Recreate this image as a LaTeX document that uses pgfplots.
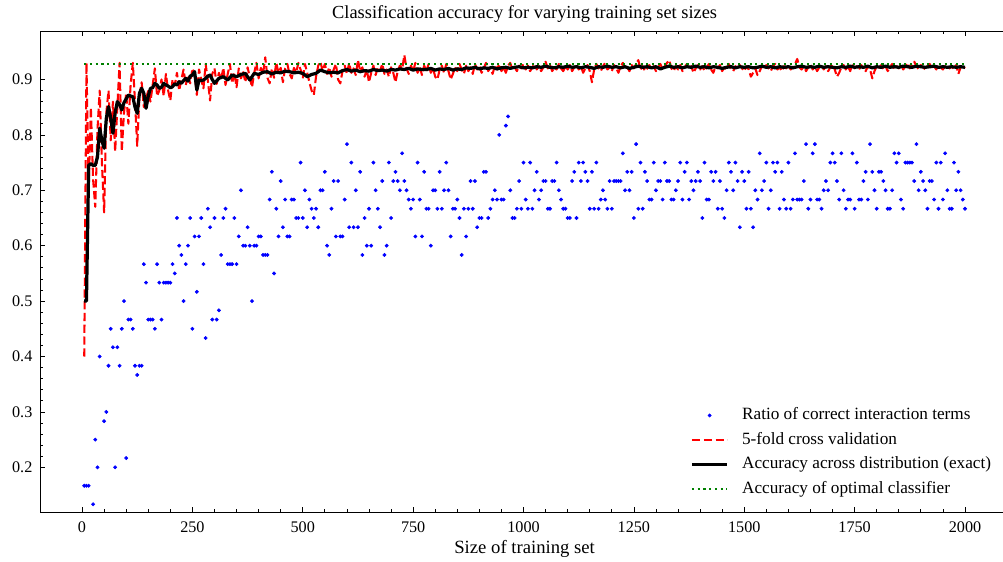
\documentclass[border=0pt]{standalone}
\usepackage{pgfplots}
\pgfplotsset{compat=1.18}
\usepackage{fontspec}
\setmainfont{Liberation Serif}

\pgfplotsset{
    line legend24/.style={legend image code/.code={\draw[##1] (0pt,0pt) -- (24pt,0pt);}},
    dot legend24/.style={legend image code/.code={\draw[mark repeat=2,mark phase=2,##1] plot coordinates {(0pt,0pt) (12pt,0pt) (24pt,0pt)};}},
}

\begin{document}
\begin{tikzpicture}
\begin{axis}[
    scale only axis,
    width=658.8pt, height=327.1pt,
    xmin=-94.75, xmax=2099.75,
    ymin=0.1193, ymax=0.9875,
    xtick={0,250,...,2000},
    ytick={0.2,0.3,0.4,0.5,0.6,0.7,0.8,0.9},
    minor x tick num=4, minor y tick num=4,
    tick align=inside, tick pos=both,
    major tick length=3.4pt, minor tick length=2pt,
    every tick/.style={black, line width=0.5pt},
    axis line style={line width=0.6pt},
    /pgf/number format/assume math mode=true,
    tick label style={font=\fontsize{11}{13}\selectfont},
    xticklabel style={/pgf/number format/1000 sep={}, anchor=base, yshift=-14pt},
    yticklabel style={xshift=-1.8pt, /pgf/number format/fixed, /pgf/number format/fixed zerofill, /pgf/number format/precision=1},
    title={Classification accuracy for varying training set sizes},
    title style={font=\fontsize{12.5}{14}\selectfont, at={(axis description cs:0.5,1)}, anchor=base, yshift=2.4pt},
    xlabel={Size of training set},
    xlabel style={font=\fontsize{12.7}{14}\selectfont, at={(axis description cs:0.5,0)}, anchor=base, yshift=-27.9pt},
    legend style={draw=none, fill=none, at={(axis cs:2063,0.1435)}, anchor=south east,
        inner sep=0pt, row sep=4.2pt, column sep=8pt,
        nodes={inner sep=1pt, text height=8pt, text depth=2.5pt},
        font=\fontsize{11.7}{13.5}\selectfont},
    legend cell align=left,
    line legend24,
]

% ratio of correct interaction terms (k/60)
\addplot[only marks, mark=*, mark size=1.1pt, color=blue, dot legend24]
coordinates {
(5,0.1667) (10,0.1667) (15,0.1667) (25,0.1333) (30,0.25) (35,0.2) (40,0.4) (45,0.1167) (50,0.2833) (55,0.3)
(60,0.3833) (65,0.45) (70,0.4167) (75,0.2) (80,0.4167) (85,0.3833) (90,0.45) (95,0.5) (100,0.2167) (105,0.4667)
(110,0.4667) (115,0.45) (120,0.3833) (125,0.3667) (130,0.3833) (135,0.3833) (140,0.5667) (145,0.5333) (150,0.4667) (155,0.4667)
(160,0.4667) (165,0.45) (170,0.5667) (175,0.5333) (180,0.4667) (185,0.5333) (190,0.5333) (195,0.5333) (200,0.5333) (205,0.5667)
(210,0.55) (215,0.65) (220,0.6) (225,0.5833) (230,0.5) (235,0.5667) (240,0.6) (245,0.65) (250,0.45) (255,0.6167)
(260,0.5167) (265,0.6167) (270,0.65) (275,0.5667) (280,0.4333) (285,0.6667) (290,0.6333) (295,0.4667) (300,0.65) (305,0.4667)
(310,0.4833) (315,0.5833) (320,0.65) (325,0.6667) (330,0.5667) (335,0.5667) (340,0.5667) (345,0.65) (350,0.5667) (355,0.6167)
(360,0.7) (365,0.6) (370,0.6) (375,0.6333) (380,0.6) (385,0.5) (390,0.6) (395,0.6) (400,0.6167) (405,0.6167)
(410,0.5833) (415,0.5833) (420,0.5833) (425,0.6833) (430,0.7333) (435,0.55) (440,0.6667) (445,0.6167) (450,0.7167) (455,0.6333)
(460,0.6833) (465,0.6167) (470,0.6167) (475,0.6833) (480,0.6833) (485,0.65) (490,0.65) (495,0.75) (500,0.65) (505,0.7)
(510,0.6333) (515,0.6833) (520,0.6667) (525,0.65) (530,0.6667) (535,0.6333) (540,0.7) (545,0.7) (550,0.7333) (555,0.6)
(560,0.5833) (565,0.6667) (570,0.7167) (575,0.6167) (580,0.7167) (585,0.6167) (590,0.6167) (595,0.6833) (600,0.7833) (605,0.6333)
(610,0.75) (615,0.6333) (620,0.7) (625,0.6333) (630,0.7333) (635,0.5833) (640,0.65) (645,0.6) (650,0.6667) (655,0.6)
(660,0.75) (665,0.7) (670,0.6667) (675,0.6333) (680,0.7167) (685,0.5833) (690,0.6) (695,0.75) (700,0.65) (705,0.7167)
(710,0.7333) (715,0.7167) (720,0.7) (725,0.7667) (730,0.7167) (735,0.7) (740,0.6833) (745,0.6667) (750,0.6833) (755,0.6167)
(760,0.75) (765,0.6833) (770,0.6167) (775,0.7333) (780,0.6667) (785,0.6667) (790,0.6) (795,0.7) (800,0.7) (805,0.6667)
(810,0.7333) (815,0.6667) (820,0.7) (825,0.75) (830,0.7) (835,0.6167) (840,0.6667) (845,0.6667) (850,0.6833) (855,0.65)
(860,0.5833) (865,0.6667) (870,0.6167) (875,0.6667) (880,0.7167) (885,0.6667) (890,0.7167) (895,0.6333) (900,0.65) (905,0.65)
(910,0.7333) (915,0.7333) (920,0.65) (925,0.6667) (930,0.6833) (935,0.7) (940,0.6833) (945,0.8) (950,0.6833) (955,0.6833)
(960,0.8167) (965,0.8333) (970,0.7) (975,0.65) (980,0.65) (985,0.6667) (990,0.7167) (995,0.6667) (1000,0.75) (1005,0.6833)
(1010,0.6667) (1015,0.75) (1020,0.6667) (1025,0.7) (1030,0.7333) (1035,0.6833) (1040,0.7) (1045,0.7167) (1050,0.7167) (1055,0.6667)
(1060,0.6667) (1065,0.7167) (1070,0.7167) (1075,0.75) (1080,0.7) (1085,0.6833) (1090,0.6667) (1095,0.6667) (1100,0.65) (1105,0.65)
(1110,0.7167) (1115,0.7333) (1120,0.65) (1125,0.75) (1130,0.7167) (1135,0.75) (1140,0.7333) (1145,0.7167) (1150,0.6667) (1155,0.7333)
(1160,0.6667) (1165,0.75) (1170,0.6667) (1175,0.6833) (1180,0.7) (1185,0.6833) (1190,0.6667) (1195,0.7167) (1200,0.6667) (1205,0.7167)
(1210,0.7167) (1215,0.7167) (1220,0.7167) (1225,0.7667) (1230,0.7) (1235,0.7333) (1240,0.7) (1245,0.7333) (1250,0.65) (1255,0.7833)
(1260,0.6667) (1265,0.75) (1270,0.6667) (1275,0.7333) (1280,0.7167) (1285,0.6833) (1290,0.6833) (1295,0.75) (1300,0.7) (1305,0.7167)
(1310,0.7167) (1315,0.6833) (1320,0.75) (1325,0.7167) (1330,0.7167) (1335,0.6833) (1340,0.6833) (1345,0.7) (1350,0.7167) (1355,0.75)
(1360,0.6833) (1365,0.7333) (1370,0.75) (1375,0.6833) (1380,0.7167) (1385,0.7) (1390,0.7167) (1395,0.7333) (1400,0.7167) (1405,0.65)
(1410,0.75) (1415,0.6833) (1420,0.6833) (1425,0.7333) (1430,0.7167) (1435,0.7333) (1440,0.6667) (1445,0.7167) (1450,0.6667) (1455,0.65)
(1460,0.7) (1465,0.75) (1470,0.7333) (1475,0.7) (1480,0.75) (1485,0.7167) (1490,0.6333) (1495,0.7333) (1500,0.7167) (1505,0.6667)
(1510,0.7333) (1515,0.6667) (1520,0.6333) (1525,0.7) (1530,0.6833) (1535,0.7667) (1540,0.7) (1545,0.7167) (1550,0.75) (1555,0.6667)
(1560,0.7) (1565,0.75) (1570,0.7333) (1575,0.75) (1580,0.6667) (1585,0.7333) (1590,0.6833) (1595,0.6667) (1600,0.75) (1605,0.6667)
(1610,0.6833) (1615,0.7667) (1620,0.6833) (1625,0.6833) (1630,0.6833) (1635,0.7167) (1640,0.7833) (1645,0.6667) (1650,0.6833) (1655,0.7667)
(1660,0.7833) (1665,0.6833) (1670,0.6833) (1675,0.6667) (1680,0.7) (1685,0.7167) (1690,0.7) (1695,0.75) (1700,0.7667) (1705,0.75)
(1710,0.7167) (1715,0.6833) (1720,0.7667) (1725,0.7) (1730,0.6667) (1735,0.6833) (1740,0.6833) (1745,0.7667) (1750,0.6667) (1755,0.75)
(1760,0.6833) (1765,0.6833) (1770,0.7167) (1775,0.7333) (1780,0.6833) (1785,0.7833) (1790,0.7333) (1795,0.7) (1800,0.6667) (1805,0.7333)
(1810,0.7333) (1815,0.7167) (1820,0.7) (1825,0.6667) (1830,0.6667) (1835,0.7) (1840,0.7667) (1845,0.75) (1850,0.7667) (1855,0.6833)
(1860,0.6667) (1865,0.75) (1870,0.75) (1875,0.75) (1880,0.75) (1885,0.7167) (1890,0.7833) (1895,0.7) (1900,0.7333) (1905,0.7167)
(1910,0.7) (1915,0.6667) (1920,0.7167) (1925,0.7167) (1930,0.6833) (1935,0.75) (1940,0.6667) (1945,0.75) (1950,0.6833) (1955,0.7667)
(1960,0.7) (1965,0.6667) (1970,0.6667) (1975,0.75) (1980,0.7) (1985,0.7333) (1990,0.7) (1995,0.6833) (2000,0.6667)
};
\addlegendentry{Ratio of correct interaction terms}

% 5-fold cross validation
\addplot[color=red, line width=1.4pt, line join=round, dash pattern=on 5.6pt off 2.4pt]
coordinates {
(5,0.400) (10,0.930) (15,0.700) (20,0.850) (25,0.720) (30,0.670) (35,0.810) (40,0.880) (45,0.750) (50,0.660)
(55,0.840) (60,0.880) (65,0.790) (70,0.860) (75,0.770) (80,0.850) (85,0.930) (90,0.770) (95,0.840) (100,0.875)
(105,0.820) (110,0.890) (115,0.930) (120,0.860) (125,0.780) (130,0.870) (135,0.895) (140,0.850) (145,0.865) (150,0.880)
(155,0.860) (160,0.890) (165,0.920) (170,0.870) (175,0.880) (180,0.900) (185,0.870) (190,0.910) (195,0.880) (200,0.862)
(205,0.900) (210,0.890) (215,0.912) (220,0.880) (225,0.900) (230,0.918) (235,0.890) (240,0.908) (245,0.893) (250,0.920)
(255,0.910) (260,0.872) (265,0.918) (270,0.900) (275,0.884) (280,0.928) (285,0.898) (290,0.862) (295,0.910) (300,0.920)
(305,0.892) (310,0.912) (315,0.900) (320,0.921) (325,0.890) (330,0.910) (335,0.928) (340,0.893) (345,0.912) (350,0.886)
(355,0.920) (360,0.902) (365,0.913) (370,0.895) (375,0.922) (380,0.904) (385,0.886) (390,0.912) (395,0.930) (400,0.902)
(405,0.921) (410,0.910) (415,0.940) (420,0.903) (425,0.893) (430,0.920) (435,0.903) (440,0.930) (445,0.912) (450,0.921)
(455,0.895) (460,0.920) (465,0.928) (470,0.910) (475,0.902) (480,0.921) (485,0.912) (490,0.930) (495,0.918) (500,0.902)
(505,0.928) (510,0.912) (515,0.895) (520,0.880) (525,0.872) (530,0.905) (535,0.925) (540,0.932) (545,0.915) (550,0.928)
(555,0.910) (560,0.922) (565,0.905) (570,0.918) (575,0.928) (580,0.900) (585,0.893) (590,0.915) (595,0.925) (600,0.910)
(605,0.930) (610,0.912) (615,0.920) (620,0.908) (625,0.935) (630,0.915) (635,0.922) (640,0.905) (645,0.918) (650,0.895)
(655,0.912) (660,0.925) (665,0.908) (670,0.922) (675,0.915) (680,0.928) (685,0.910) (690,0.918) (695,0.905) (700,0.922)
(705,0.912) (710,0.895) (715,0.915) (720,0.925) (725,0.918) (730,0.944) (735,0.920) (740,0.910) (745,0.925) (750,0.915)
(755,0.930) (760,0.912) (765,0.922) (770,0.908) (775,0.925) (780,0.915) (785,0.928) (790,0.912) (795,0.920) (800,0.905)
(805,0.900) (810,0.918) (815,0.925) (820,0.912) (825,0.928) (830,0.915) (835,0.900) (840,0.910) (845,0.922) (850,0.915)
(855,0.928) (860,0.918) (865,0.910) (870,0.925) (875,0.915) (880,0.922) (885,0.910) (890,0.928) (895,0.918) (900,0.925)
(905,0.912) (910,0.920) (915,0.930) (920,0.915) (925,0.922) (930,0.910) (935,0.925) (940,0.918) (945,0.928) (950,0.915)
(955,0.922) (960,0.912) (965,0.925) (970,0.930) (975,0.918) (980,0.922) (985,0.915) (990,0.925) (995,0.920) (1000,0.928)
(1005,0.918) (1010,0.925) (1015,0.915) (1020,0.922) (1025,0.928) (1030,0.918) (1035,0.924) (1040,0.915) (1045,0.922) (1050,0.932)
(1055,0.920) (1060,0.926) (1065,0.915) (1070,0.922) (1075,0.918) (1080,0.928) (1085,0.920) (1090,0.915) (1095,0.924) (1100,0.918)
(1105,0.926) (1110,0.915) (1115,0.922) (1120,0.928) (1125,0.918) (1130,0.924) (1135,0.912) (1140,0.920) (1145,0.926) (1150,0.915)
(1155,0.895) (1160,0.918) (1165,0.928) (1170,0.920) (1175,0.915) (1180,0.924) (1185,0.930) (1190,0.918) (1195,0.922) (1200,0.915)
(1205,0.926) (1210,0.920) (1215,0.912) (1220,0.924) (1225,0.930) (1230,0.918) (1235,0.922) (1240,0.915) (1245,0.926) (1250,0.920)
(1255,0.928) (1260,0.935) (1265,0.918) (1270,0.924) (1275,0.915) (1280,0.920) (1285,0.926) (1290,0.918) (1295,0.924) (1300,0.915)
(1305,0.922) (1310,0.928) (1315,0.918) (1320,0.924) (1325,0.930) (1330,0.935) (1335,0.920) (1340,0.915) (1345,0.924) (1350,0.918)
(1355,0.926) (1360,0.915) (1365,0.922) (1370,0.928) (1375,0.918) (1380,0.924) (1385,0.912) (1390,0.920) (1395,0.926) (1400,0.918)
(1405,0.924) (1410,0.915) (1415,0.922) (1420,0.928) (1425,0.918) (1430,0.912) (1435,0.924) (1440,0.920) (1445,0.926) (1450,0.915)
(1455,0.922) (1460,0.918) (1465,0.928) (1470,0.920) (1475,0.915) (1480,0.924) (1485,0.918) (1490,0.926) (1495,0.920) (1500,0.915)
(1505,0.924) (1510,0.918) (1515,0.905) (1520,0.912) (1525,0.920) (1530,0.908) (1535,0.915) (1540,0.924) (1545,0.918) (1550,0.926)
(1555,0.920) (1560,0.915) (1565,0.924) (1570,0.928) (1575,0.918) (1580,0.922) (1585,0.915) (1590,0.924) (1595,0.920) (1600,0.926)
(1605,0.918) (1610,0.922) (1615,0.928) (1620,0.937) (1625,0.922) (1630,0.918) (1635,0.924) (1640,0.915) (1645,0.922) (1650,0.928)
(1655,0.918) (1660,0.924) (1665,0.915) (1670,0.922) (1675,0.926) (1680,0.918) (1685,0.924) (1690,0.915) (1695,0.922) (1700,0.928)
(1705,0.918) (1710,0.905) (1715,0.912) (1720,0.922) (1725,0.926) (1730,0.918) (1735,0.924) (1740,0.915) (1745,0.928) (1750,0.920)
(1755,0.924) (1760,0.918) (1765,0.926) (1770,0.920) (1775,0.915) (1780,0.924) (1785,0.918) (1790,0.902) (1795,0.915) (1800,0.924)
(1805,0.920) (1810,0.926) (1815,0.918) (1820,0.924) (1825,0.915) (1830,0.922) (1835,0.928) (1840,0.918) (1845,0.924) (1850,0.920)
(1855,0.926) (1860,0.918) (1865,0.924) (1870,0.930) (1875,0.920) (1880,0.926) (1885,0.932) (1890,0.924) (1895,0.918) (1900,0.926)
(1905,0.922) (1910,0.918) (1915,0.924) (1920,0.928) (1925,0.920) (1930,0.924) (1935,0.918) (1940,0.926) (1945,0.922) (1950,0.918)
(1955,0.924) (1960,0.926) (1965,0.920) (1970,0.924) (1975,0.918) (1980,0.926) (1985,0.910) (1990,0.922) (1995,0.924) (2000,0.920)
};
\addlegendentry{5-fold cross validation}

% accuracy across distribution (exact)
\addplot[color=black, line width=2.2pt, line join=round]
coordinates {
(5,0.500) (10,0.500) (15,0.745) (20,0.748) (25,0.745) (30,0.745) (35,0.760) (40,0.812) (45,0.790) (50,0.776)
(55,0.830) (60,0.851) (65,0.830) (70,0.803) (75,0.840) (80,0.860) (85,0.855) (90,0.845) (95,0.858) (100,0.865)
(105,0.872) (110,0.870) (115,0.869) (120,0.850) (125,0.839) (130,0.875) (135,0.884) (140,0.875) (145,0.848) (150,0.870)
(155,0.884) (160,0.885) (165,0.893) (170,0.890) (175,0.884) (180,0.886) (185,0.893) (190,0.890) (195,0.888) (200,0.885)
(205,0.887) (210,0.892) (215,0.890) (220,0.896) (225,0.893) (230,0.898) (235,0.902) (240,0.897) (245,0.906) (250,0.908)
(255,0.914) (260,0.881) (265,0.899) (270,0.898) (275,0.899) (280,0.902) (285,0.906) (290,0.908) (295,0.900) (300,0.893)
(310,0.902) (320,0.905) (330,0.899) (340,0.908) (350,0.905) (360,0.909) (370,0.911) (380,0.899) (390,0.911) (400,0.909)
(410,0.913) (420,0.914) (430,0.910) (440,0.913) (450,0.912) (460,0.915) (470,0.914) (480,0.912) (490,0.913) (500,0.911)
(510,0.905) (520,0.909) (530,0.911) (540,0.917) (550,0.914) (560,0.912) (570,0.913) (580,0.912) (590,0.916) (600,0.918)
(610,0.915) (620,0.917) (630,0.914) (640,0.916) (650,0.915) (660,0.918) (670,0.916) (680,0.917) (690,0.915) (700,0.918)
(710,0.917) (720,0.919) (730,0.918) (740,0.920) (750,0.917) (760,0.919) (770,0.918) (780,0.918) (790,0.920) (800,0.917)
(810,0.919) (820,0.918) (830,0.920) (840,0.917) (850,0.919) (860,0.918) (870,0.921) (880,0.920) (890,0.922) (900,0.919)
(910,0.921) (920,0.920) (930,0.922) (940,0.919) (950,0.921) (960,0.922) (970,0.920) (980,0.922) (990,0.923) (1000,0.921)
(1010,0.922) (1020,0.921) (1030,0.923) (1040,0.922) (1050,0.924) (1060,0.922) (1070,0.921) (1080,0.923) (1090,0.922) (1100,0.924)
(1110,0.922) (1120,0.923) (1130,0.921) (1140,0.923) (1150,0.922) (1160,0.920) (1170,0.923) (1180,0.922) (1190,0.924) (1200,0.922)
(1210,0.923) (1220,0.921) (1230,0.923) (1240,0.920) (1250,0.922) (1260,0.924) (1270,0.922) (1280,0.923) (1290,0.921) (1300,0.923)
(1310,0.919) (1320,0.922) (1330,0.924) (1340,0.922) (1350,0.923) (1360,0.921) (1370,0.923) (1380,0.922) (1390,0.924) (1400,0.922)
(1410,0.923) (1420,0.921) (1430,0.923) (1440,0.922) (1450,0.920) (1460,0.922) (1470,0.923) (1480,0.921) (1490,0.923) (1500,0.922)
(1510,0.923) (1520,0.921) (1530,0.922) (1540,0.924) (1550,0.922) (1560,0.923) (1570,0.921) (1580,0.923) (1590,0.922) (1600,0.923)
(1610,0.921) (1620,0.923) (1630,0.924) (1640,0.922) (1650,0.923) (1660,0.922) (1670,0.924) (1680,0.922) (1690,0.923) (1700,0.922)
(1710,0.921) (1720,0.923) (1730,0.922) (1740,0.924) (1750,0.922) (1760,0.923) (1770,0.922) (1780,0.924) (1790,0.921) (1800,0.923)
(1810,0.922) (1820,0.924) (1830,0.922) (1840,0.923) (1850,0.922) (1860,0.924) (1870,0.923) (1880,0.922) (1890,0.924) (1900,0.923)
(1910,0.922) (1920,0.923) (1930,0.924) (1940,0.922) (1950,0.923) (1960,0.922) (1970,0.923) (1980,0.922) (1990,0.923) (2000,0.922)
};
\addlegendentry{Accuracy across distribution (exact)}

% accuracy of optimal classifier
\addplot[color={rgb,255:red,0;green,128;blue,0}, line width=1.4pt, dash pattern=on 1.4pt off 2.5pt]
coordinates {(5,0.928) (2000,0.928)};
\addlegendentry{Accuracy of optimal classifier}

\end{axis}
\pgfresetboundingbox
\path[use as bounding box] ([shift={(-27.34pt,-33.32pt)}]current axis.south west)
    rectangle ([shift={(654.7pt,21.08pt)}]current axis.north west);
\end{tikzpicture}
\end{document}
